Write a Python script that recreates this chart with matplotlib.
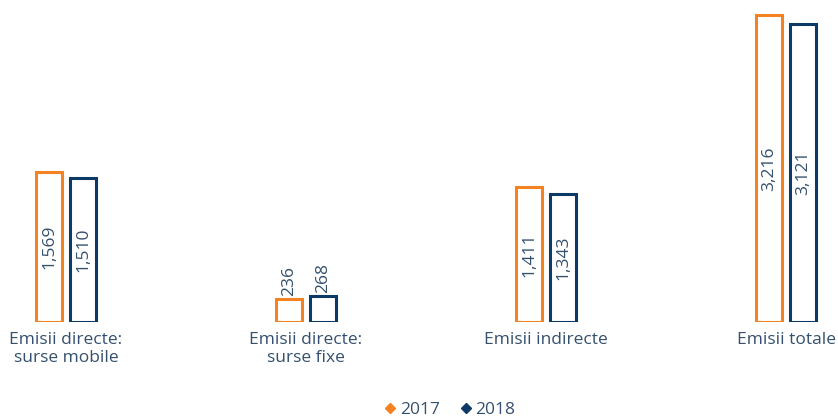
import matplotlib.pyplot as plt
import numpy as np
from matplotlib.lines import Line2D

categories = ["Emisii directe:\nsurse mobile", "Emisii directe:\nsurse fixe",
              "Emisii indirecte", "Emisii totale"]
years = ["2017", "2018"]
values_2017 = [1569, 236, 1411, 3216]
values_2018 = [1510, 268, 1343, 3121]

orange = "#F58220"
navy = "#0C3A66"
text_col = "#34506E"

plt.rcParams["font.family"] = ["Open Sans", "DejaVu Sans"]

fig = plt.figure(figsize=(8.38, 4.17), dpi=100)
ax = fig.add_axes([0, 95 / 417, 1, 322 / 417])

x = np.arange(len(categories))
width = 0.105
offset = 0.071
fs = 12.5

for vals, col, sign in [(values_2017, orange, -1), (values_2018, navy, 1)]:
    bars = ax.bar(x + sign * offset, vals, width, facecolor="white",
                  edgecolor=col, linewidth=2.2)
    for b, v in zip(bars, vals):
        cx = b.get_x() + b.get_width() / 2
        label = f"{v:,}"
        if v > 800:
            ax.text(cx, v / 2, label, rotation=90, ha="center", va="center",
                    fontsize=fs, color=text_col)
        else:
            ax.text(cx, v + 40, label, rotation=90, ha="center", va="bottom",
                    fontsize=fs, color=text_col)

ax.set_xlim(-66 / 240, (838 - 66) / 240)
ax.set_ylim(0, 3372)
ax.set_xticks(x)
ax.set_xticklabels(categories, fontsize=12.5, color=text_col, linespacing=1.15)
ax.tick_params(axis="x", length=0, pad=7)
ax.set_yticks([])
for s in ax.spines.values():
    s.set_visible(False)

handles = [Line2D([], [], marker="D", linestyle="none", markersize=5.5,
                  color=c) for c in (orange, navy)]
leg = fig.legend(handles, years, loc="lower center", bbox_to_anchor=(0.535, -0.04),
                 ncol=2, frameon=False, fontsize=fs, handletextpad=0.05,
                 columnspacing=1.0, handlelength=1)
for t in leg.get_texts():
    t.set_color(text_col)

fig.savefig("out.png", dpi=100)
